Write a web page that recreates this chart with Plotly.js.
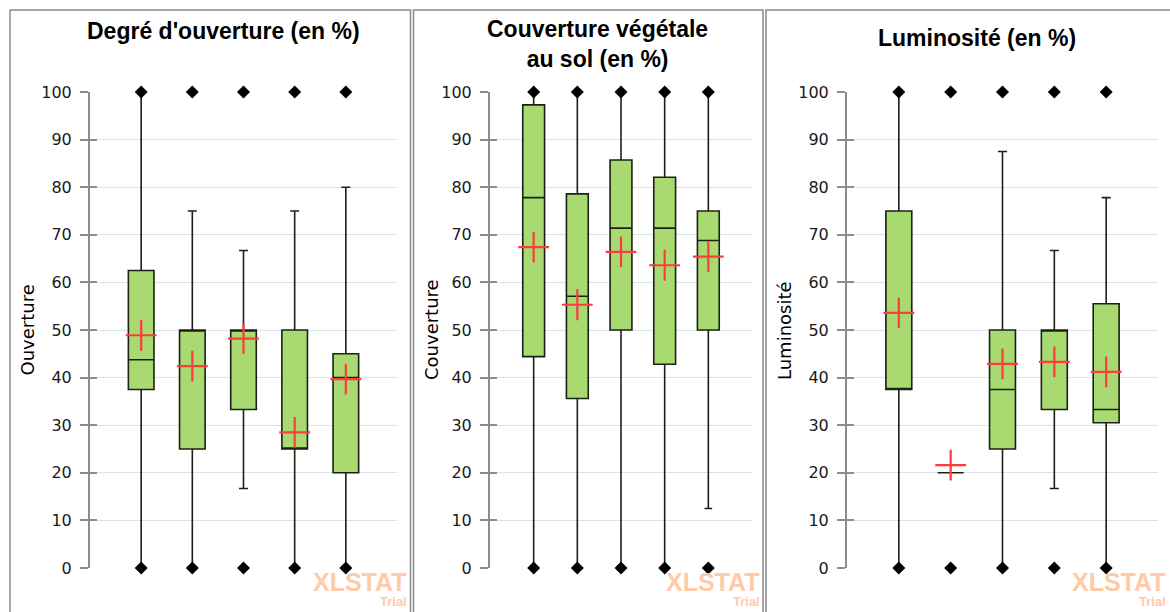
<!DOCTYPE html>
<html>
<head>
<meta charset="utf-8">
<script src="https://cdn.plot.ly/plotly-3.0.1.min.js"></script>
<style>
  html, body { margin: 0; padding: 0; background: #ffffff; }
  #chart { width: 1170px; height: 612px; }
</style>
</head>
<body>
<div id="chart"></div>
<script>
// ---------- DATA ----------
const categories = ["G1", "G2", "G3", "G4", "G5"];

// Degré d'ouverture
const ouvQ1     = [37.5, 25, 33.3, 25, 20];
const ouvMedian = [43.75, 50, 50, 25, 40];
const ouvQ3     = [62.5, 50, 50, 50, 45];
const ouvLow    = [0, 0, 16.7, 0, 0];
const ouvHigh   = [100, 75, 66.7, 75, 80];
const ouvMean   = [48.9, 42.4, 48.2, 28.5, 39.7];
const ouvMin    = [0, 0, 0, 0, 0];
const ouvMax    = [100, 100, 100, 100, 100];

// Couverture végétale au sol
const covQ1     = [44.4, 35.6, 50, 42.8, 50];
const covMedian = [77.8, 57.1, 71.4, 71.4, 68.8];
const covQ3     = [97.3, 78.6, 85.7, 82.1, 75];
const covLow    = [0, 0, 0, 0, 12.5];
const covHigh   = [100, 100, 100, 100, 100];
const covMean   = [67.4, 55.3, 66.4, 63.6, 65.4];
const covMin    = [0, 0, 0, 0, 0];
const covMax    = [100, 100, 100, 100, 100];

// Luminosité
const lumQ1     = [37.5, 20, 25, 33.3, 30.5];
const lumMedian = [37.5, 20, 37.5, 50, 33.3];
const lumQ3     = [75, 20, 50, 50, 55.5];
const lumLow    = [0, 20, 0, 16.7, 0];
const lumHigh   = [100, 20, 87.5, 66.7, 77.8];
const lumMean   = [53.6, 21.6, 42.9, 43.3, 41.2];
const lumMin    = [0, 0, 0, 0, 0];
const lumMax    = [100, 100, 100, 100, 100];

const panelTitles = ["Degré d'ouverture (en %)", "Couverture végétale<br>au sol (en %)", "Luminosité (en %)"];
const axisTitles  = ["Ouverture", "Couverture", "Luminosité"];
const yTickVals   = [0, 10, 20, 30, 40, 50, 60, 70, 80, 90, 100];

// ---------- STYLE ----------
const W = 1170, H = 612;
const px = v => v / W;
const py = v => 1 - v / H;

const panels = [
  { q1: ouvQ1, med: ouvMedian, q3: ouvQ3, lo: ouvLow, hi: ouvHigh, mean: ouvMean, mn: ouvMin, mx: ouvMax,
    dom: [90, 397], titleX: 223, titleY: 31, axX: 26.5, border: [10, 410.5], wmX: 409 },
  { q1: covQ1, med: covMedian, q3: covQ3, lo: covLow, hi: covHigh, mean: covMean, mn: covMin, mx: covMax,
    dom: [490, 752], titleX: 597, titleY: 44, axX: 431, border: [413.5, 763], wmX: 762 },
  { q1: lumQ1, med: lumMedian, q3: lumQ3, lo: lumLow, hi: lumHigh, mean: lumMean, mn: lumMin, mx: lumMax,
    dom: [847, 1158], titleX: 977, titleY: 38, axX: 784, border: [766, 1185], wmX: 1168 }
];

const traces = [];
const layout = {
  width: W, height: H,
  margin: { l: 0, r: 0, t: 0, b: 0 },
  paper_bgcolor: "#ffffff",
  plot_bgcolor: "rgba(0,0,0,0)",
  showlegend: false,
  font: { family: "DejaVu Sans, sans-serif", color: "#1a1a1a" },
  annotations: [],
  shapes: []
};

const yDomain = [py(568), py(92)];

panels.forEach((p, i) => {
  const n = i + 1;
  const xa = n === 1 ? "x" : "x" + n;
  const ya = n === 1 ? "y" : "y" + n;
  const xKey = n === 1 ? "xaxis" : "xaxis" + n;
  const yKey = n === 1 ? "yaxis" : "yaxis" + n;
  const yTickKey = "yaxis" + (n + 3);
  const yTickRef = "y" + (n + 3);

  traces.push({
    type: "box",
    x: categories,
    q1: p.q1, median: p.med, q3: p.q3,
    lowerfence: p.lo, upperfence: p.hi,
    width: 0.5,
    whiskerwidth: 0.35,
    fillcolor: "#a9da72",
    line: { color: "#1a2214", width: 1.6 },
    boxpoints: false,
    hoverinfo: "skip",
    xaxis: xa, yaxis: ya
  });
  traces.push({
    type: "scatter", mode: "markers",
    x: categories, y: p.mn,
    marker: { symbol: "diamond", size: 10, color: "#000000" },
    cliponaxis: false, hoverinfo: "skip",
    xaxis: xa, yaxis: ya
  });
  traces.push({
    type: "scatter", mode: "markers",
    x: categories, y: p.mx,
    marker: { symbol: "diamond", size: 10, color: "#000000" },
    cliponaxis: false, hoverinfo: "skip",
    xaxis: xa, yaxis: ya
  });
  traces.push({
    type: "scatter", mode: "markers",
    x: categories, y: p.mean,
    marker: { symbol: "cross-thin", size: 22, color: "#ff3b3b", line: { color: "#ff3b3b", width: 2.2 } },
    cliponaxis: false, hoverinfo: "skip",
    xaxis: xa, yaxis: ya
  });

  layout[xKey] = {
    domain: [px(p.dom[0]), px(p.dom[1])],
    anchor: ya,
    type: "category",
    categoryarray: categories,
    range: [-1, 5],
    showticklabels: false,
    ticks: "",
    showgrid: false,
    zeroline: false,
    showline: false,
    fixedrange: true
  };
  layout[yKey] = {
    domain: yDomain,
    anchor: xa,
    range: [0, 100],
    tickvals: yTickVals,
    ticks: "outside",
    ticklen: 8,
    tickwidth: 2,
    tickcolor: "#8c8c8c",
    ticklabelstandoff: 5,
    showline: true,
    linecolor: "#8c8c8c",
    linewidth: 2,
    showgrid: true,
    gridcolor: "#d8e2ee",
    gridwidth: 1,
    zeroline: false,
    tickfont: { family: "DejaVu Sans, sans-serif", size: 16, color: "#1a1a1a" },
    fixedrange: true
  };
  layout[yTickKey] = {
    overlaying: ya,
    anchor: xa,
    side: "left",
    range: [0, 100],
    tickvals: yTickVals,
    ticks: "inside",
    ticklen: 7,
    tickwidth: 2,
    tickcolor: "#8c8c8c",
    showticklabels: false,
    showgrid: false,
    showline: false,
    zeroline: false,
    fixedrange: true
  };
  traces.push({
    type: "scatter", mode: "markers", x: [], y: [],
    xaxis: xa, yaxis: yTickRef, hoverinfo: "skip", showlegend: false
  });

  layout.annotations.push({
    xref: "paper", yref: "paper",
    x: px(p.titleX), y: py(p.titleY),
    xanchor: "center", yanchor: "middle",
    text: "<b>" + panelTitles[i] + "</b>",
    showarrow: false,
    font: { family: "Liberation Sans, Arial, sans-serif", size: 23, color: "#000000" }
  });
  layout.annotations.push({
    xref: "paper", yref: "paper",
    x: px(p.axX), y: py(330),
    xanchor: "center", yanchor: "middle",
    textangle: -90,
    text: axisTitles[i],
    showarrow: false,
    font: { family: "DejaVu Sans, sans-serif", size: 18, color: "#000000" }
  });
  layout.annotations.push({
    xref: "paper", yref: "paper",
    x: px(p.wmX), y: py(582),
    xanchor: "right", yanchor: "middle",
    text: "<b>XLSTAT</b>",
    showarrow: false,
    font: { family: "Liberation Sans Narrow, Liberation Sans, Arial, sans-serif", size: 25, color: "#ffcaa8" }
  });
  layout.annotations.push({
    xref: "paper", yref: "paper",
    x: px(p.wmX), y: py(601),
    xanchor: "right", yanchor: "middle",
    text: "<b>Trial</b>",
    showarrow: false,
    font: { family: "Liberation Sans Narrow, Liberation Sans, Arial, sans-serif", size: 13, color: "#ffcaa8" }
  });
  layout.shapes.push({
    type: "rect", xref: "paper", yref: "paper",
    x0: px(p.border[0]), x1: px(p.border[1]),
    y0: -0.05, y1: py(10),
    line: { color: "#8a8a8a", width: 1.5 },
    fillcolor: "rgba(0,0,0,0)",
    layer: "below"
  });
});

Plotly.newPlot("chart", traces, layout, { displayModeBar: false, staticPlot: true });
</script>
</body>
</html>
